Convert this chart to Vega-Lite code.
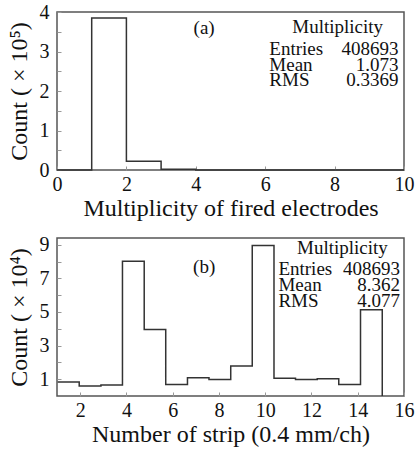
{
  "$schema": "https://vega.github.io/schema/vega-lite/v6.json",
  "padding": {"left": 6, "top": 1, "right": 10, "bottom": 2},
  "spacing": 12,
  "config": {
    "view": {"stroke": "#555", "strokeWidth": 1.5},
    "font": "Liberation Serif",
    "axis": {
      "grid": false, "domain": false, "tickColor": "#999", "tickSize": -4, "tickWidth": 1,
      "labelFont": "Liberation Serif", "labelFontSize": 20, "labelColor": "#111",
      "titleFont": "Liberation Serif", "titleFontSize": 24, "titleFontWeight": "normal", "titleColor": "#111",
      "labelFlush": false, "labelOverlap": false, "labelBound": false
    },
    "text": {"font": "Liberation Serif", "fontSize": 19, "color": "#111"}
  },
  "vconcat": [
    {
      "width": 347, "height": 158,
      "encoding": {
        "x": {"field": "x", "type": "quantitative", "scale": {"domain": [0, 10], "nice": false, "zero": false},
          "axis": {"values": [0, 2, 4, 6, 8, 10], "format": "d", "labelOverlap": false, "title": "Multiplicity of fired electrodes", "labelPadding": 8, "titlePadding": 2}},
        "y": {"field": "y", "type": "quantitative", "scale": {"domain": [0, 4], "nice": false},
          "axis": {"values": [0, 0.5, 1, 1.5, 2, 2.5, 3, 3.5, 4], "labelOverlap": false, "labelExpr": "datum.value % 1 === 0 ? format(datum.value, 'd') : ''",
            "title": "Count ( × 10⁵)", "labelPadding": 12, "titlePadding": 8}}
      },
      "layer": [
        {
          "data": {"values": [
            {"x": 0, "y": 0}, {"x": 1, "y": 3.85}, {"x": 2, "y": 0.22},
            {"x": 3, "y": 0.017}, {"x": 4, "y": 0}, {"x": 10, "y": 0}
          ]},
          "mark": {"type": "line", "interpolate": "step-after", "color": "#333", "strokeWidth": 1.5}
        },
        {
          "data": {"values": [
            {"x": 4.24, "y": 3.45, "t": "(a)", "pos": "c"},
            {"x": 8.09, "y": 3.47, "t": "Multiplicity", "pos": "c"},
            {"x": 6.12, "y": 2.9, "t": "Entries", "pos": "l"},
            {"x": 6.12, "y": 2.5, "t": "Mean", "pos": "l"},
            {"x": 6.12, "y": 2.12, "t": "RMS", "pos": "l"},
            {"x": 9.84, "y": 2.9, "t": "408693", "pos": "r"},
            {"x": 9.84, "y": 2.5, "t": "1.073", "pos": "r"},
            {"x": 9.84, "y": 2.12, "t": "0.3369", "pos": "r"}
          ]},
          "layer": [
            {"transform": [{"filter": "datum.pos === 'c'"}], "mark": {"type": "text", "align": "center", "baseline": "alphabetic"},
              "encoding": {"text": {"field": "t"}}},
            {"transform": [{"filter": "datum.pos === 'l'"}], "mark": {"type": "text", "align": "left", "baseline": "alphabetic"},
              "encoding": {"text": {"field": "t"}}},
            {"transform": [{"filter": "datum.pos === 'r'"}], "mark": {"type": "text", "align": "right", "baseline": "alphabetic"},
              "encoding": {"text": {"field": "t"}}}
          ]
        }
      ]
    },
    {
      "width": 347, "height": 158,
      "encoding": {
        "x": {"field": "x", "type": "quantitative", "scale": {"domain": [1, 16], "nice": false, "zero": false},
          "axis": {"values": [2, 4, 6, 8, 10, 12, 14, 16], "format": "d", "labelOverlap": false, "title": "Number of strip (0.4 mm/ch)", "labelPadding": 8, "titlePadding": 2}},
        "y": {"field": "y", "type": "quantitative", "scale": {"domain": [0, 9.4], "nice": false},
          "axis": {"values": [1, 2, 3, 4, 5, 6, 7, 8, 9], "labelOverlap": false, "labelExpr": "datum.value % 2 === 1 ? format(datum.value, 'd') : ''",
            "title": "Count ( × 10⁴)", "labelPadding": 12, "titlePadding": 8}}
      },
      "layer": [
        {
          "data": {"values": [
            {"x": 1.03, "y": 0.84}, {"x": 1.96, "y": 0.6}, {"x": 2.9, "y": 0.66},
            {"x": 3.83, "y": 8.02}, {"x": 4.77, "y": 3.95}, {"x": 5.7, "y": 0.68},
            {"x": 6.64, "y": 1.08}, {"x": 7.57, "y": 0.98}, {"x": 8.51, "y": 1.79},
            {"x": 9.44, "y": 8.95}, {"x": 10.38, "y": 1.06}, {"x": 11.31, "y": 0.98},
            {"x": 12.25, "y": 1.02}, {"x": 13.18, "y": 0.68}, {"x": 14.12, "y": 5.13},
            {"x": 15.06, "y": 0}
          ]},
          "mark": {"type": "line", "interpolate": "step-after", "color": "#333", "strokeWidth": 1.5}
        },
        {
          "data": {"values": [
            {"x": 7.36, "y": 7.3, "t": "(b)", "pos": "c"},
            {"x": 13.34, "y": 8.45, "t": "Multiplicity", "pos": "c"},
            {"x": 10.57, "y": 7.2, "t": "Entries", "pos": "l"},
            {"x": 10.57, "y": 6.25, "t": "Mean", "pos": "l"},
            {"x": 10.57, "y": 5.32, "t": "RMS", "pos": "l"},
            {"x": 15.83, "y": 7.2, "t": "408693", "pos": "r"},
            {"x": 15.83, "y": 6.25, "t": "8.362", "pos": "r"},
            {"x": 15.83, "y": 5.32, "t": "4.077", "pos": "r"}
          ]},
          "layer": [
            {"transform": [{"filter": "datum.pos === 'c'"}], "mark": {"type": "text", "align": "center", "baseline": "alphabetic"},
              "encoding": {"text": {"field": "t"}}},
            {"transform": [{"filter": "datum.pos === 'l'"}], "mark": {"type": "text", "align": "left", "baseline": "alphabetic"},
              "encoding": {"text": {"field": "t"}}},
            {"transform": [{"filter": "datum.pos === 'r'"}], "mark": {"type": "text", "align": "right", "baseline": "alphabetic"},
              "encoding": {"text": {"field": "t"}}}
          ]
        }
      ]
    }
  ]
}
